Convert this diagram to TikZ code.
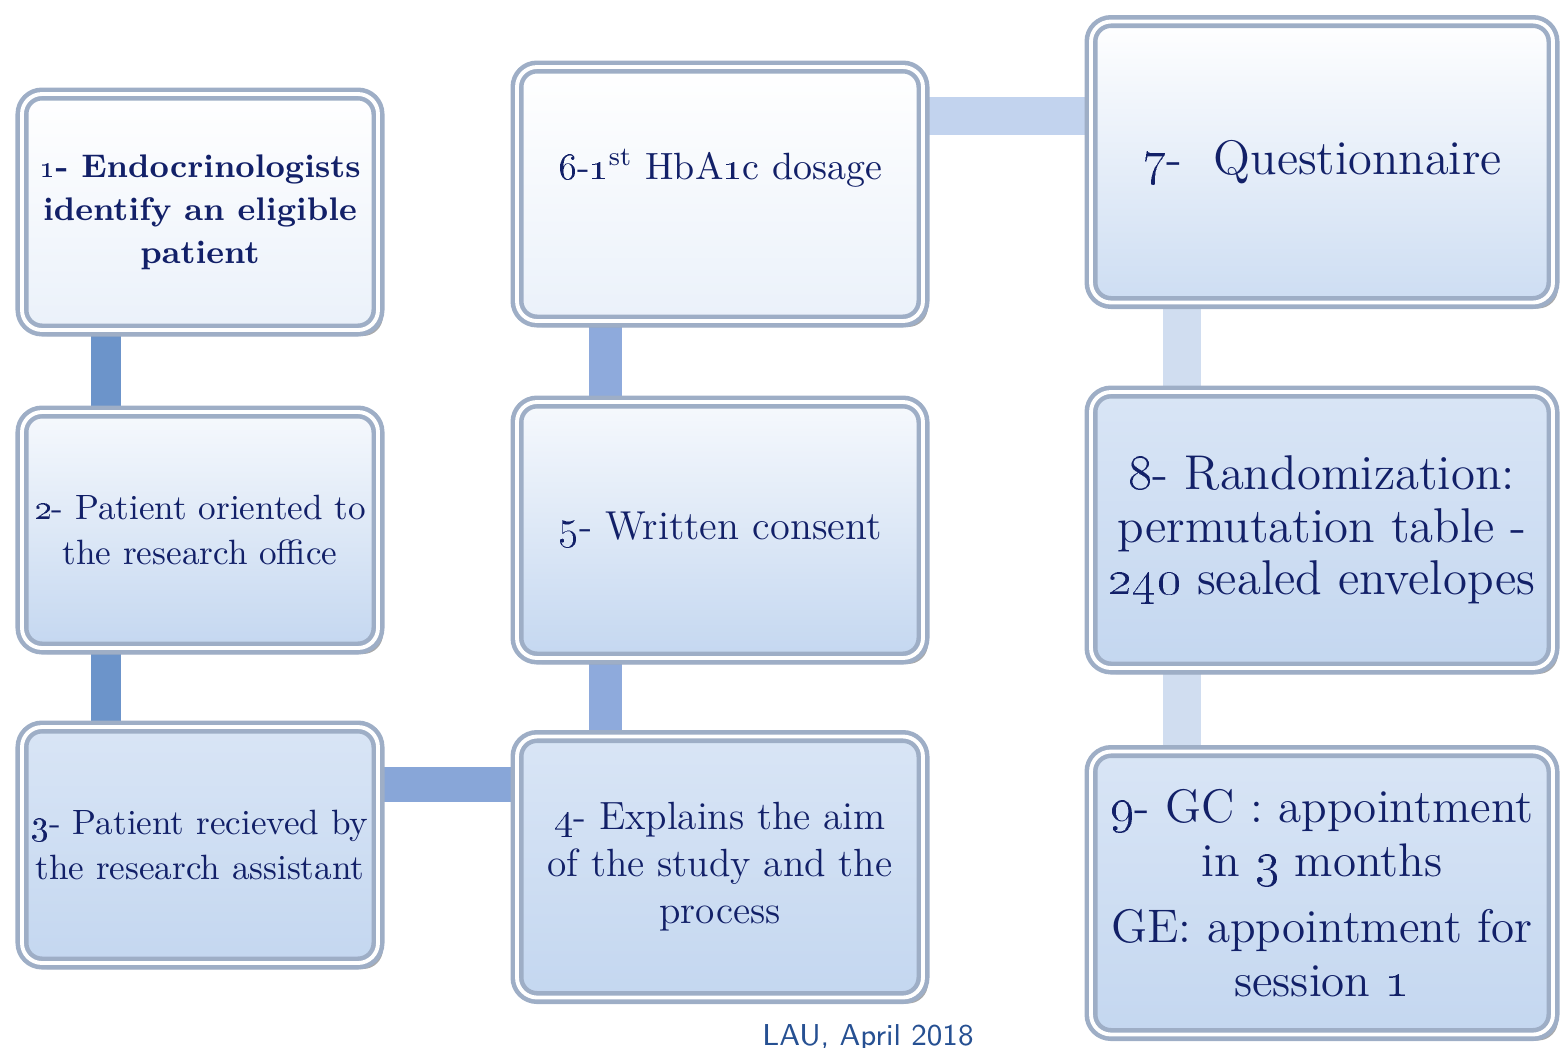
\documentclass[tikz,border=0pt]{standalone}
\usepackage{tikz}
\usetikzlibrary{calc,shadows}

\definecolor{navy}{RGB}{18,32,104}
\definecolor{rim}{RGB}{158,174,198}
\definecolor{paleblue}{RGB}{196,215,240}
\definecolor{barA}{RGB}{108,148,202}
\definecolor{barB}{RGB}{142,170,220}
\definecolor{barC}{RGB}{136,166,216}
\definecolor{barD}{RGB}{194,211,238}
\definecolor{barE}{RGB}{208,221,240}
\definecolor{lau}{RGB}{38,80,146}

\pgfdeclarelayer{background}
\pgfsetlayers{background,main}

\begin{document}
\begin{tikzpicture}[
    stage/.style={rounded corners=0.2cm, draw=rim, line width=1.3pt,
      double=white, double distance=1.1pt, align=center, text=navy,
      inner sep=2pt, shading angle=20,
      drop shadow={shadow xshift=0.05cm, shadow yshift=-0.06cm,
        opacity=0.45, fill=black!75}},
    whitefill/.style={top color=white, bottom color=paleblue!35},
    midfill/.style={top color=white!85!paleblue, bottom color=paleblue},
    bluefill/.style={top color=paleblue!65!white, bottom color=paleblue},
    txt/.style 2 args={font=\fontsize{#1}{#2}\selectfont},
    bar/.style={line width=#1, line cap=butt}]

  % page size of the slide
  \useasboundingbox (0,0) rectangle (15.64,-10.47);

  % first column
  \node[stage, whitefill, txt={9.3}{12.2}, minimum width=3.56cm, minimum height=2.36cm] (b1) at (2.00,-2.12)
    {\bfseries \oldstylenums{1}- Endocrinologists\\ \bfseries identify an eligible\\ \bfseries patient};
  \node[stage, midfill, txt={10}{12.8}, minimum width=3.56cm, minimum height=2.36cm] (b2) at (2.00,-5.30)
    {\oldstylenums{2}- Patient oriented to\\ the research office};
  \node[stage, bluefill, txt={10}{12.8}, minimum width=3.56cm, minimum height=2.36cm] (b3) at (2.00,-8.45)
    {\oldstylenums{3}- Patient recieved by\\ the research assistant};

  % second column
  \node[stage, whitefill, txt={10.8}{13}, minimum width=4.06cm, minimum height=2.54cm, text depth=0.6cm] (b6) at (7.20,-1.94)
    {\oldstylenums{6}-\oldstylenums{1}\textsuperscript{st} HbA\oldstylenums{1}c dosage};
  \node[stage, midfill, txt={11.5}{13.5}, minimum width=4.06cm, minimum height=2.56cm] (b5) at (7.20,-5.30)
    {\oldstylenums{5}- Written consent};
  \node[stage, bluefill, txt={11.2}{13.4}, minimum width=4.06cm, minimum height=2.61cm] (b4) at (7.20,-8.67)
    {\oldstylenums{4}- Explains the aim\\ of the study and the\\ process};

  % third column
  \node[stage, top color=white, bottom color=paleblue!85, txt={13.8}{16}, minimum width=4.62cm, minimum height=2.81cm] (b7) at (13.22,-1.62)
    {\oldstylenums{7}-\ \ Questionnaire};
  \node[stage, bluefill, txt={13.9}{14.9}, minimum width=4.62cm, minimum height=2.76cm] (b8) at (13.22,-5.30)
    {\oldstylenums{8}- Randomization:\\ permutation table -\\ \oldstylenums{240} sealed envelopes};
  \node[stage, bluefill, txt={13.4}{15.4}, minimum width=4.62cm, minimum height=2.83cm] (b9) at (13.22,-8.93)
    {\oldstylenums{9}- GC : appointment\\ in \oldstylenums{3} months\\[0.12cm] GE: appointment for\\ session \oldstylenums{1}};

  % connecting bars (behind the boxes)
  \begin{pgfonlayer}{background}
    \draw[bar=0.30cm, barA] ($(b1.south west)!0.24!(b1.south east)$) -- ($(b2.north west)!0.24!(b2.north east)$);
    \draw[bar=0.30cm, barA] ($(b2.south west)!0.24!(b2.south east)$) -- ($(b3.north west)!0.24!(b3.north east)$);
    \draw[bar=0.35cm, barC] ($(b3.north east)!0.25!(b3.south east)$) coordinate (c34) -- (c34 -| b4.west);
    \draw[bar=0.33cm, barB] ($(b4.north west)!0.22!(b4.north east)$) -- ($(b5.south west)!0.22!(b5.south east)$);
    \draw[bar=0.33cm, barB] ($(b5.north west)!0.22!(b5.north east)$) -- ($(b6.south west)!0.22!(b6.south east)$);
    \draw[bar=0.38cm, barD] ($(b6.north east)!0.20!(b6.south east)$) coordinate (c67) -- (c67 -| b7.west);
    \draw[bar=0.38cm, barE] ($(b7.south west)!0.20!(b7.south east)$) -- ($(b8.north west)!0.20!(b8.north east)$);
    \draw[bar=0.38cm, barE] ($(b8.south west)!0.20!(b8.south east)$) -- ($(b9.north west)!0.20!(b9.north east)$);
  \end{pgfonlayer}

  % footer
  \node[anchor=base, text=lau, font=\sffamily\fontsize{8.6}{10}\selectfont] (lau) at (8.68,-10.45) {LAU, April 2018};

\end{tikzpicture}
\end{document}
